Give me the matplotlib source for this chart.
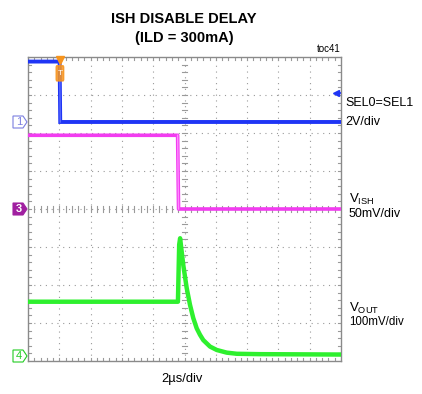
import matplotlib
matplotlib.use("Agg")
import matplotlib.pyplot as plt
from matplotlib import font_manager
from matplotlib.patches import Polygon, FancyBboxPatch
import numpy as np

# ---------------- data (time in µs) ----------------
sel_t = [0.0, 2.02, 2.06, 20.0]          # SEL0=SEL1 (V)
sel_v = [3.18, 3.18, 0.0, 0.0]

ish_t = [0.0, 9.56, 9.62, 20.0]          # V_ISH (mV)
ish_v = [97.0, 97.0, 0.0, 0.0]

out_t = [0.0, 9.58, 9.66, 9.72, 9.92, 10.14, 10.35, 10.56, 10.78, 10.99,
         11.20, 11.63, 12.06, 12.70, 13.34, 14.82, 20.0]   # V_OUT (mV)
out_v = [140, 140, 290, 307, 237, 176, 132, 97, 70, 53,
         39, 22, 13, 6, 3, 2, 1]

# channel scales (per division) and ground offsets (divisions from bottom)
sel_scale, sel_off = 2.0, 6.29
ish_scale, ish_off = 50.0, 4.0
out_scale, out_off = 100.0, 0.16

names = {f.name for f in font_manager.fontManager.ttflist}
narrow = "Liberation Sans Narrow" if "Liberation Sans Narrow" in names else "Liberation Sans"
plt.rcParams["font.family"] = [narrow, "DejaVu Sans"]

W, H = 422, 394
fig = plt.figure(figsize=(W / 100, H / 100), dpi=100)
L, R, T, B = 28, 341, 57, 361
ax = fig.add_axes([L / W, 1 - B / H, (R - L) / W, (B - T) / H])
ax.set_xlim(0, 20)
ax.set_ylim(0, 8)
ax.set_xticks([])
ax.set_yticks([])
for s in ax.spines.values():
    s.set_color("#8a8a8a")
    s.set_linewidth(1.0)

grid_c = "#9a9a9a"
for gx in range(2, 20, 2):
    ax.plot([gx, gx], [0, 8], color=grid_c, lw=0.8, ls=(0, (1, 4.2)), zorder=1)
for gy in range(1, 8):
    ax.plot([0, 20], [gy, gy], color=grid_c, lw=0.8, ls=(0, (1, 4.2)), zorder=1)

# center axis ticks & border ticks
tl_x = 0.08  # in divisions (vertical)
tl_y = 0.18  # in µs (horizontal)
for k in range(1, 50):
    xx = k * 0.4
    ax.plot([xx, xx], [4 - tl_x, 4 + tl_x], color=grid_c, lw=0.8, zorder=1)
    ax.plot([xx, xx], [8, 8 - tl_x], color=grid_c, lw=0.8, zorder=1)
    ax.plot([xx, xx], [0, tl_x], color=grid_c, lw=0.8, zorder=1)
for k in range(1, 40):
    yy = k * 0.2
    ax.plot([10 - tl_y, 10 + tl_y], [yy, yy], color=grid_c, lw=0.8, zorder=1)
    ax.plot([0, tl_y], [yy, yy], color=grid_c, lw=0.8, zorder=1)
    ax.plot([20, 20 - tl_y], [yy, yy], color=grid_c, lw=0.8, zorder=1)

blue = "#1f35f5"
mag = "#f23cf0"
green = "#2ef02e"

ax.plot(sel_t, np.array(sel_v) / sel_scale + sel_off, color=blue, lw=2.8,
        solid_joinstyle="miter", zorder=3)
ax.plot([sel_t[1], sel_t[2]], np.array(sel_v[1:3]) / sel_scale + sel_off, color="#5a6cff", lw=1.0, zorder=4)
ax.plot(ish_t, np.array(ish_v) / ish_scale + ish_off, color=mag, lw=2.6, zorder=3)
ax.plot([ish_t[1], ish_t[2]], np.array(ish_v[1:3]) / ish_scale + ish_off, color="#ff88ff", lw=1.0, zorder=4)
ax.plot(out_t, np.array(out_v) / out_scale + out_off, color=green, lw=3.2, zorder=3)

# trigger marker
ax.plot([2.04], [7.93], marker="v", color="#f7941d", ms=6, clip_on=False, zorder=6)
ax.add_patch(FancyBboxPatch((1.85, 7.42), 0.38, 0.3, boxstyle="round,pad=0.05",
                            fc="#f7941d", ec="#f7941d", alpha=0.85, zorder=6))
ax.text(2.04, 7.57, "T", color="white", fontsize=6, ha="center", va="center", zorder=7)
# trigger level arrow
ax.plot([19.7], [7.05], marker="<", color=blue, ms=5, zorder=6)
ax.plot([19.7, 20.0], [7.05, 7.05], color=blue, lw=1.2, zorder=6)

# channel markers (in figure pixels)
def chan_marker(yc, label, col, filled):
    x0 = 13
    pts = [(x0, yc - 6), (x0 + 10, yc - 6), (x0 + 14, yc), (x0 + 10, yc + 6), (x0, yc + 6)]
    pts = [(px / W, 1 - py / H) for px, py in pts]
    fig.patches.append(Polygon(pts, closed=True, transform=fig.transFigure,
                               fc=col if filled else "none", ec=col, lw=0.8))
    fig.text((x0 + 6) / W, 1 - yc / H, label, color="white" if filled else col,
             fontsize=8, ha="center", va="center", fontweight="bold" if filled else "normal")

chan_marker(122, "1", "#7b7fe0", False)
chan_marker(209, "3", "#a020a0", True)
chan_marker(356, "4", "#22cc22", False)

# texts
fig.text(184 / W, 1 - 19 / H, "ISH DISABLE DELAY", fontsize=10.5, fontweight="bold",
         ha="center", va="center")
fig.text(184 / W, 1 - 38 / H, "(ILD = 300mA)", fontsize=10.5, fontweight="bold",
         ha="center", va="center")
fig.text(341 / W, 1 - 49 / H, "toc41", fontsize=7, ha="right", va="center")
fig.text(345 / W, 1 - 103 / H, "SEL0=SEL1", fontsize=9, ha="left", va="center")
fig.text(345 / W, 1 - 122 / H, "2V/div", fontsize=9, ha="left", va="center")
fig.text(349 / W, 1 - 199 / H, r"V$_{\mathregular{ISH}}$", fontsize=9.5, ha="left", va="center")
fig.text(349 / W, 1 - 214 / H, "50mV/div", fontsize=9, ha="left", va="center")
fig.text(349 / W, 1 - 308 / H, r"V$_{\mathregular{OUT}}$", fontsize=9.5, ha="left", va="center")
fig.text(349 / W, 1 - 322 / H, "100mV/div", fontsize=8.3, ha="left", va="center",
         family=["Liberation Sans", "DejaVu Sans"])
fig.text(182 / W, 1 - 379 / H, "2µs/div", fontsize=9.3, ha="center", va="center")

fig.savefig("out.png", dpi=100)
